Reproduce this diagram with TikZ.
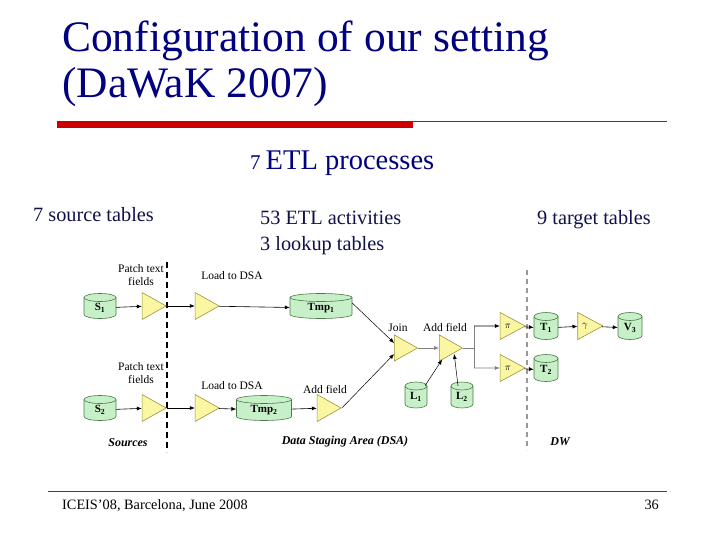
\documentclass[tikz,border=0pt]{standalone}
\usepackage{fontspec}
\setmainfont{Liberation Serif}
\usetikzlibrary{shapes.geometric,arrows.meta}
\definecolor{navy}{HTML}{000080}
\definecolor{subnavy}{HTML}{10104A}
\definecolor{redbar}{HTML}{CC0000}
\definecolor{rule}{HTML}{8B2323}
\definecolor{cylfill}{HTML}{C8F0C8}
\definecolor{cylborder}{HTML}{4A7A4A}
\definecolor{trifill}{HTML}{FBF6A2}
\definecolor{triborder}{HTML}{9A9440}
\def\cylry{4}
% #1 name, #2 x, #3 y (centre), #4 width, #5 height, #6 text
\newcommand\cylbox[6]{%
  \pgfmathsetmacro\cxl{#2-#4/2}%
  \pgfmathsetmacro\cxr{#2+#4/2}%
  \pgfmathsetmacro\cyt{#3-#5/2+\cylry}%
  \pgfmathsetmacro\cyb{#3+#5/2-\cylry}%
  \pgfmathsetmacro\crx{#4/2}%
  \pgfmathsetmacro\cym{#3+\cylry/2}%
  \pgfmathsetmacro\cbh{#5-\cylry}%
  \filldraw[cylbody] (\cxl,\cyt) -- (\cxl,\cyb)
    arc[start angle=180,end angle=360,x radius=\crx pt,y radius=\cylry pt]
    -- (\cxr,\cyt)
    arc[start angle=0,end angle=180,x radius=\crx pt,y radius=\cylry pt] -- cycle;
  \draw[cylbody, fill=none] (\cxl,\cyt)
    arc[start angle=180,end angle=360,x radius=\crx pt,y radius=\cylry pt];
  \node[cyltext, minimum width=#4 pt, minimum height=\cbh pt] (#1) at (#2,\cym) {#6};
}
\begin{document}
\begin{tikzpicture}[x=1pt,y=-1pt,
  cylbody/.style={draw=cylborder, fill=cylfill, line width=0.6pt},
  cyltext/.style={inner sep=0pt, font=\bfseries\fontsize{11}{11}\selectfont},
  tri/.style={isosceles triangle, isosceles triangle stretches, draw=triborder, fill=trifill,
    inner sep=0pt, line width=0.6pt, minimum width=27pt, minimum height=24pt,
    font=\fontsize{10}{10}\selectfont},
  flow/.style={-{Latex[length=5pt,width=4pt]}, line width=0.6pt},
  lbl/.style={font=\fontsize{11.5}{13}\selectfont, inner sep=0pt, align=center},
  area/.style={font=\bfseries\itshape\fontsize{12}{12}\selectfont, inner sep=0pt},
  ttl/.style={font=\fontsize{43.5}{44}\selectfont, text=navy, inner sep=0pt, anchor=base west},
  sub/.style={font=\fontsize{20.3}{21}\selectfont, text=subnavy, inner sep=0pt, anchor=base west}
]
\useasboundingbox (0,0) rectangle (720,540);
% title
\node[ttl] (t1) at (62,52) {Configuration of our setting};
\node[ttl] (t2) at (62,98) {(DaWaK 2007)};
\fill[redbar] (57,121) rectangle (413,128);
\draw[rule, line width=0.8pt] (413,121.5) -- (667,121.5);
% subtitles
\node[inner sep=0pt, anchor=base west, text=navy] (etl) at (250,170)
  {{\fontsize{21}{21}\selectfont 7}\hspace{5pt}{\fontsize{28.5}{29}\selectfont ETL processes}};
\node[sub] (src) at (33,222) {7 source tables};
\node[sub] (act) at (260,225) {53 ETL activities};
\node[sub] (lkp) at (260,251) {3 lookup tables};
\node[sub] (tgt) at (537,225) {9 target tables};
% dashed separators
\draw[line width=2pt, dash pattern=on 6pt off 4pt] (167,262) -- (167,452);
\draw[line width=1.4pt, gray!80, dash pattern=on 5pt off 4pt] (527,270) -- (527,450);
% row 1
\cylbox{s1}{100}{306}{32}{25}{S\textsubscript{1}}
\node[tri] (p1) at (150,306) {};
\node[tri] (d1) at (203,306) {};
\cylbox{tmp1}{321}{306}{62}{25}{Tmp\textsubscript{1}}
% row 2
\cylbox{s2}{100}{408}{32}{25}{S\textsubscript{2}}
\node[tri] (p2) at (150,408) {};
\node[tri] (d2) at (203,408) {};
\cylbox{tmp2}{264}{408}{55}{25}{Tmp\textsubscript{2}}
\node[tri] (af2) at (325,408) {};
% join part
\node[tri, minimum width=26pt, minimum height=23pt] (join) at (402,348) {};
\node[tri, minimum width=26pt, minimum height=23pt] (af) at (447,348) {};
\cylbox{l1}{416}{395}{22}{26}{L\textsubscript{1}}
\cylbox{l2}{462}{395}{22}{26}{L\textsubscript{2}}
% targets
\node[tri, minimum width=27pt, minimum height=25pt] (pi1) at (508,326) {$\pi$\hspace{7pt}};
\node[tri, minimum width=27pt, minimum height=25pt] (pi2) at (508,368) {$\pi$\hspace{7pt}};
\cylbox{tt1}{546}{326}{24}{27}{T\textsubscript{1}}
\cylbox{tt2}{546}{368}{24}{27}{T\textsubscript{2}}
\node[tri, minimum width=27pt, minimum height=25pt] (gam) at (585,326) {$\gamma$\hspace{7pt}};
\cylbox{v3}{630}{326}{24}{27}{V\textsubscript{3}}
\coordinate (br) at (474,348);
\coordinate (brt) at (474,326);
\coordinate (brb) at (474,368);
% labels
\node[lbl] (lp1) at (141,275) {Patch text\\fields};
\node[lbl] (lp2) at (141,373) {Patch text\\fields};
\node[lbl] (ld1) at (232,276) {Load to DSA};
\node[lbl] (ld2) at (232,386) {Load to DSA};
\node[lbl] (la2) at (325,390) {Add field};
\node[lbl] (lj) at (398,328) {Join};
\node[lbl] (la) at (445,328) {Add field};
\node[area] (lsrc) at (128,443) {Sources};
\node[area] (ldsa) at (345,442) {Data Staging Area (DSA)};
\node[area] (ldw) at (560,442) {DW};
% connectors
\draw[flow] (s1) -- (p1);
\draw[flow] (p1) -- (d1);
\draw[flow] (d1) -- (tmp1);
\draw[flow] (s2) -- (p2);
\draw[flow] (p2) -- (d2);
\draw[flow] (d2) -- (tmp2);
\draw[flow] (tmp2) -- (af2);
\draw[flow, line width=0.5pt] ([yshift=5pt]tmp1.east) -- ([yshift=5pt]join.west);
\draw[flow, line width=0.5pt] (af2.apex) -- ([yshift=-6pt]join.west);
\draw[flow, gray] (join.apex) -- (af);
\draw[flow, line width=0.5pt] ([xshift=9pt]l1.north) -- ([xshift=3pt,yshift=2pt]af.right corner);
\draw[flow, line width=0.5pt] ([xshift=-4pt]l2.north) -- ([xshift=-9pt,yshift=-6pt]af.apex);
\draw[gray, line width=0.6pt] (af.apex) -- (br);
\draw[gray, line width=0.6pt] (brt) -- (brb);
\draw[flow] (brt) -- (pi1);
\draw[flow, gray] (brb) -- (pi2);
\draw[flow] (pi1) -- (tt1);
\draw[flow] (pi2) -- (tt2);
\draw[flow] (tt1) -- (gam);
\draw[flow] (gam) -- (v3);
% footer
\draw[rule, line width=0.9pt] (48,491) -- (667,491);
\node[inner sep=0pt, anchor=base west, font=\fontsize{14.3}{14}\selectfont] (foot) at (62,509) {ICEIS'08, Barcelona, June 2008};
\node[inner sep=0pt, anchor=base east, font=\fontsize{14.3}{14}\selectfont] (pg) at (659,509) {36};
\end{tikzpicture}
\end{document}
